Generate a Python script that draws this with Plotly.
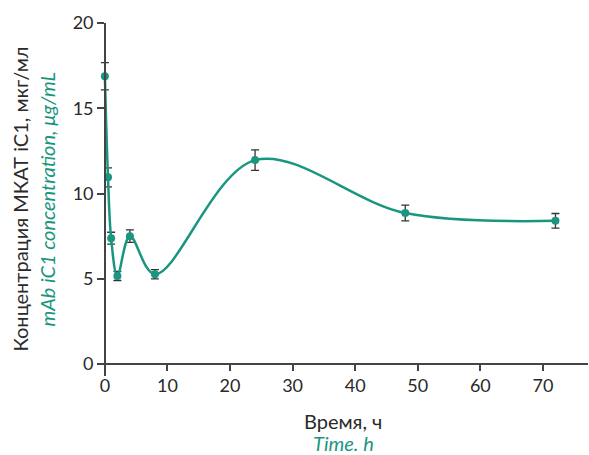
import plotly.graph_objects as go

time_h = [0, 0.5, 1, 2, 4, 8, 24, 48, 72]
conc = [16.88, 10.95, 7.38, 5.17, 7.5, 5.27, 11.96, 8.86, 8.4]
err = [0.8, 0.56, 0.35, 0.27, 0.37, 0.27, 0.6, 0.46, 0.43]

x_ticks = [0, 10, 20, 30, 40, 50, 60, 70]
y_ticks = [0, 5, 10, 15, 20]

TEAL = "#1a9680"
TXT = "#2a2a2a"
FONT = "Lato"
FS = 18
TFS = 20

xr = [-1.1, 77.2]
yr = [-0.7, 20]

fig = go.Figure()
fig.add_trace(go.Scatter(
    x=time_h, y=conc,
    mode="lines+markers",
    line=dict(color=TEAL, width=2.5, shape="spline", smoothing=1),
    marker=dict(color=TEAL, size=8),
    error_y=dict(type="data", array=err, visible=True, color="#333333",
                 thickness=1.3, width=4),
    showlegend=False,
))

fig.update_layout(
    width=589, height=455,
    margin=dict(l=98, r=1, t=23, b=79),
    paper_bgcolor="white", plot_bgcolor="white",
    font=dict(family=FONT, size=FS, color=TXT),
    xaxis=dict(range=xr, tickvals=x_ticks, showgrid=False, zeroline=False,
               showline=True, linecolor="#444444", linewidth=1.5,
               ticks="outside", ticklen=6, tickwidth=1.5, tickcolor="#444444",
               anchor="free", position=(0 - yr[0]) / (yr[1] - yr[0]),
               tickfont=dict(size=FS, color=TXT)),
    yaxis=dict(range=yr, tickvals=y_ticks, showgrid=False, zeroline=False,
               showline=True, linecolor="#444444", linewidth=1.5,
               ticks="outside", ticklen=7, tickwidth=1.5, tickcolor="#444444",
               anchor="free", position=(0 - xr[0]) / (xr[1] - xr[0]),
               tickfont=dict(size=FS, color=TXT)),
    annotations=[
        dict(text="Время, ч", xref="paper", yref="paper", x=0.5, y=-0.128,
             showarrow=False, xanchor="center", yanchor="middle",
             font=dict(size=TFS, color=TXT, family=FONT)),
        dict(text="<i>Time. h</i>", xref="paper", yref="paper", x=0.5, y=-0.19,
             showarrow=False, xanchor="center", yanchor="middle",
             font=dict(size=TFS, color=TEAL, family=FONT)),
        dict(text="Концентрация МКАТ iC1, мкг/мл", xref="paper", yref="paper",
             x=-0.161, y=0.5, textangle=-90, showarrow=False,
             xanchor="center", yanchor="middle",
             font=dict(size=TFS, color=TXT, family=FONT)),
        dict(text="<i>mAb iC1 concentration, μg/mL</i>", xref="paper", yref="paper",
             x=-0.106, y=0.5, textangle=-90, showarrow=False,
             xanchor="center", yanchor="middle",
             font=dict(size=TFS, color=TEAL, family=FONT)),
    ],
)

fig.write_html("out.html", config={"displayModeBar": False},
               post_script="document.body.style.margin='0';")
